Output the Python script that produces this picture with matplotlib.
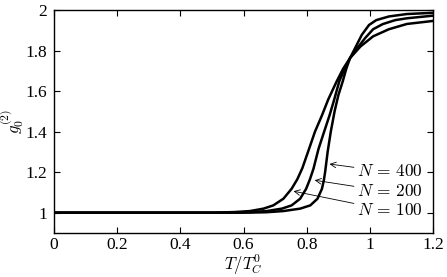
import matplotlib
matplotlib.use("Agg")
import matplotlib.pyplot as plt

plt.rcParams['mathtext.fontset'] = 'cm'
plt.rcParams['font.family'] = ['Liberation Serif', 'DejaVu Serif']

# Curves (T/T_C^0, g_0^(2))
x_n100 = [0.0, 0.30, 0.50, 0.57, 0.62, 0.663, 0.694, 0.726, 0.752, 0.770, 0.786, 0.805, 0.826, 0.848, 0.868, 0.895, 0.915, 0.937, 0.97, 1.01, 1.06, 1.117, 1.2]
y_n100 = [1.0, 1.0, 1.0, 1.003, 1.008, 1.02, 1.036, 1.069, 1.118, 1.165, 1.22, 1.305, 1.40, 1.48, 1.559, 1.649, 1.71, 1.763, 1.82, 1.87, 1.905, 1.931, 1.946]

x_n200 = [0.0, 0.30, 0.55, 0.62, 0.673, 0.721, 0.752, 0.779, 0.798, 0.810, 0.821, 0.837, 0.855, 0.872, 0.887, 0.903, 0.920, 0.937, 0.96, 0.985, 1.01, 1.04, 1.08, 1.117, 1.2]
y_n200 = [1.0, 1.0, 1.0, 1.003, 1.008, 1.02, 1.036, 1.069, 1.118, 1.165, 1.216, 1.314, 1.40, 1.48, 1.559, 1.649, 1.71, 1.763, 1.812, 1.862, 1.905, 1.93, 1.95, 1.959, 1.972]

x_n400 = [0.0, 0.30, 0.60, 0.67, 0.726, 0.779, 0.811, 0.834, 0.848, 0.854, 0.858, 0.866, 0.876, 0.888, 0.900, 0.914, 0.925, 0.937, 0.953, 0.974, 0.997, 1.02, 1.06, 1.117, 1.2]
y_n400 = [1.0, 1.0, 1.0, 1.002, 1.008, 1.02, 1.036, 1.069, 1.118, 1.16, 1.20, 1.30, 1.40, 1.50, 1.58, 1.649, 1.71, 1.763, 1.812, 1.877, 1.926, 1.950, 1.968, 1.98, 1.986]

labels = [r'$N\,=\,400$', r'$N\,=\,200$', r'$N\,=\,100$']
label_y = [1.2, 1.103, 1.01]
arrow_tip = [(0.872, 1.24), (0.825, 1.16), (0.758, 1.106)]

xticks = [0, 0.2, 0.4, 0.6, 0.8, 1.0, 1.2]
xticklabels = ['0', '0.2', '0.4', '0.6', '0.8', '1', '1.2']
yticks = [1.0, 1.2, 1.4, 1.6, 1.8, 2.0]
yticklabels = ['1', '1.2', '1.4', '1.6', '1.8', '2']

fig = plt.figure(figsize=(4.47, 2.77), dpi=100)
ax = fig.add_axes([0.121, 0.159, 0.848, 0.805])

for xs, ys in [(x_n100, y_n100), (x_n200, y_n200), (x_n400, y_n400)]:
    ax.plot(xs, ys, color='black', lw=1.8, solid_joinstyle='round',
            solid_capstyle='round')

for lab, ly, tip in zip(labels, label_y, arrow_tip):
    ax.annotate(lab, xy=tip, xytext=(0.958, ly), fontsize=12.5,
                ha='left', va='center',
                arrowprops=dict(arrowstyle='->', lw=0.6, color='black',
                                shrinkA=0, shrinkB=0, mutation_scale=10))

ax.set_xlim(0, 1.2)
ax.set_ylim(0.9, 2.0)
ax.set_xticks(xticks)
ax.set_xticklabels(xticklabels)
ax.set_yticks(yticks)
ax.set_yticklabels(yticklabels)
ax.tick_params(direction='in', top=True, right=True, length=4, width=0.8,
               labelsize=12.5, pad=5)
ax.tick_params(axis='x', pad=3)
for s in ax.spines.values():
    s.set_linewidth(1.0)

ax.set_xlabel(r'$T/T_C^0$', fontsize=12)
ax.xaxis.set_label_coords(0.5, -0.145)
ax.xaxis.label.set_va('center')
ax.set_ylabel(r'$g_0^{(2)}$', fontsize=12)
ax.yaxis.set_label_coords(-0.11, 0.50)
ax.yaxis.label.set_va('center')

fig.savefig('out.png', dpi=100)
